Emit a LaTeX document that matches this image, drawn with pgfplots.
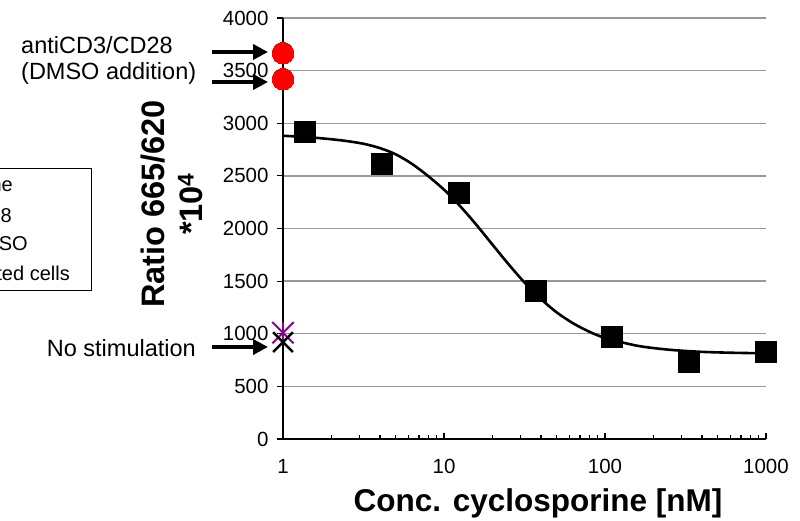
\documentclass[border=0pt]{standalone}
\usepackage{pgfplots}
\pgfplotsset{compat=1.18}
\usepackage{fontspec}
\setmainfont{Liberation Sans}
\usetikzlibrary{arrows.meta}
\definecolor{gridgray}{HTML}{999999}
\definecolor{xpurple}{HTML}{8B008B}
\begin{document}
\begin{tikzpicture}[x=1pt,y=1pt]
\clip (0,0) rectangle (800,521);
\begin{axis}[
  at={(283pt,82pt)}, anchor=south west,
  scale only axis, width=483pt, height=421pt,
  clip=false,
  xmode=log, log basis x=10,
  xmin=1, xmax=1000, ymin=0, ymax=4000,
  axis lines*=left,
  x axis line style={line width=2.4pt},
  y axis line style={line width=1.2pt},
  xtick={1,10,100,1000}, xticklabels={1,10,100,1000},
  minor xtick={2,3,4,5,6,7,8,9,20,30,40,50,60,70,80,90,200,300,400,500,600,700,800,900},
  ytick={0,500,...,4000},
  /pgf/number format/1000 sep={},
  /pgf/number format/assume math mode=true,
  ymajorgrids, major grid style={gridgray, line width=1.3pt},
  x tick style={black, line width=1.2pt},
  y tick style={black, line width=1.2pt},
  xtick align=inside, ytick align=outside,
  major tick length=6pt, minor tick length=4pt,
  ticklabel style={font=\fontsize{20.5}{20.5}\selectfont},
  xticklabel style={yshift=-17pt},
  yticklabel style={xshift=-5pt},
]
% fitted curve
\addplot[black, line width=2.6pt, smooth, no marks] coordinates {
(1,2881) (1.259,2873) (1.585,2862) (1.995,2848) (2.512,2830) (3.162,2805)
(3.981,2765) (5.012,2705) (6.310,2615) (7.943,2500) (10,2369) (12.59,2213)
(15.85,2037) (19.95,1849) (25.12,1662) (31.62,1487) (39.81,1333) (50.12,1203)
(63.10,1101) (79.43,1021) (100,961) (158.5,886) (251.2,848) (398.1,828)
(631.0,819) (1000,814)};
% cyclosporine data
\addplot[only marks, mark=square*, mark size=10.5pt, mark options={fill=black, draw=black, line width=0pt}] coordinates {
(1.37,2917) (4.12,2613) (12.4,2337) (37.3,1406) (110,969) (333,731) (1000,827)};
% antiCD3/CD28
\addplot[only marks, mark=*, mark size=10.8pt, mark options={fill=red, draw=red, line width=0pt}] coordinates {
(1,3667) (1,3420)};
% no stimulation
\addplot[only marks, mark=x, mark size=15pt, mark options={draw=xpurple, line width=2pt}] coordinates {(1,1010)};
\addplot[only marks, mark=|, mark size=11pt, mark options={draw=xpurple, line width=2pt}] coordinates {(1,1010)};
\addplot[only marks, mark=x, mark size=14pt, mark options={draw=black, line width=2.4pt}] coordinates {(1,920)};
\end{axis}
% arrows
\draw[line width=4pt, -{Triangle[length=15pt,width=15pt]}] (212,469) -- (268,469);
\draw[line width=4pt, -{Triangle[length=15pt,width=15pt]}] (212,439) -- (268,439);
\draw[line width=4pt, -{Triangle[length=15pt,width=15pt]}] (212,174) -- (268,174);
% annotations
\node[anchor=west, inner sep=0pt, font=\fontsize{23.5}{23.5}\selectfont] at (21,476) {antiCD3/CD28};
\node[anchor=west, inner sep=0pt, font=\fontsize{23.5}{23.5}\selectfont] at (21,448) {(DMSO addition)};
\node[anchor=east, inner sep=0pt, font=\fontsize{23.5}{23.5}\selectfont] at (196,173) {No stimulation};
% axis titles
\node[rotate=90, align=center, font=\bfseries\fontsize{32.5}{38}\selectfont] at (172,317) {Ratio 665/620\\*10\textsuperscript{4}};
\node[font=\bfseries\fontsize{31.5}{31.5}\selectfont] at (538,18) {Conc. cyclosporine [nM]};
% clipped legend box
\draw[black, line width=0.8pt] (-60,231) rectangle (91,353);
\node[anchor=east, inner sep=0pt, font=\fontsize{20}{20}\selectfont] at (13,335) {cyclosporine};
\node[anchor=east, inner sep=0pt, font=\fontsize{20}{20}\selectfont] at (12,306) {antiCD3/CD28};
\node[anchor=east, inner sep=0pt, font=\fontsize{20}{20}\selectfont] at (28,277) {+ DMSO};
\node[anchor=east, inner sep=0pt, font=\fontsize{20}{20}\selectfont] at (70,248) {unstimulated cells};
\end{tikzpicture}
\end{document}
